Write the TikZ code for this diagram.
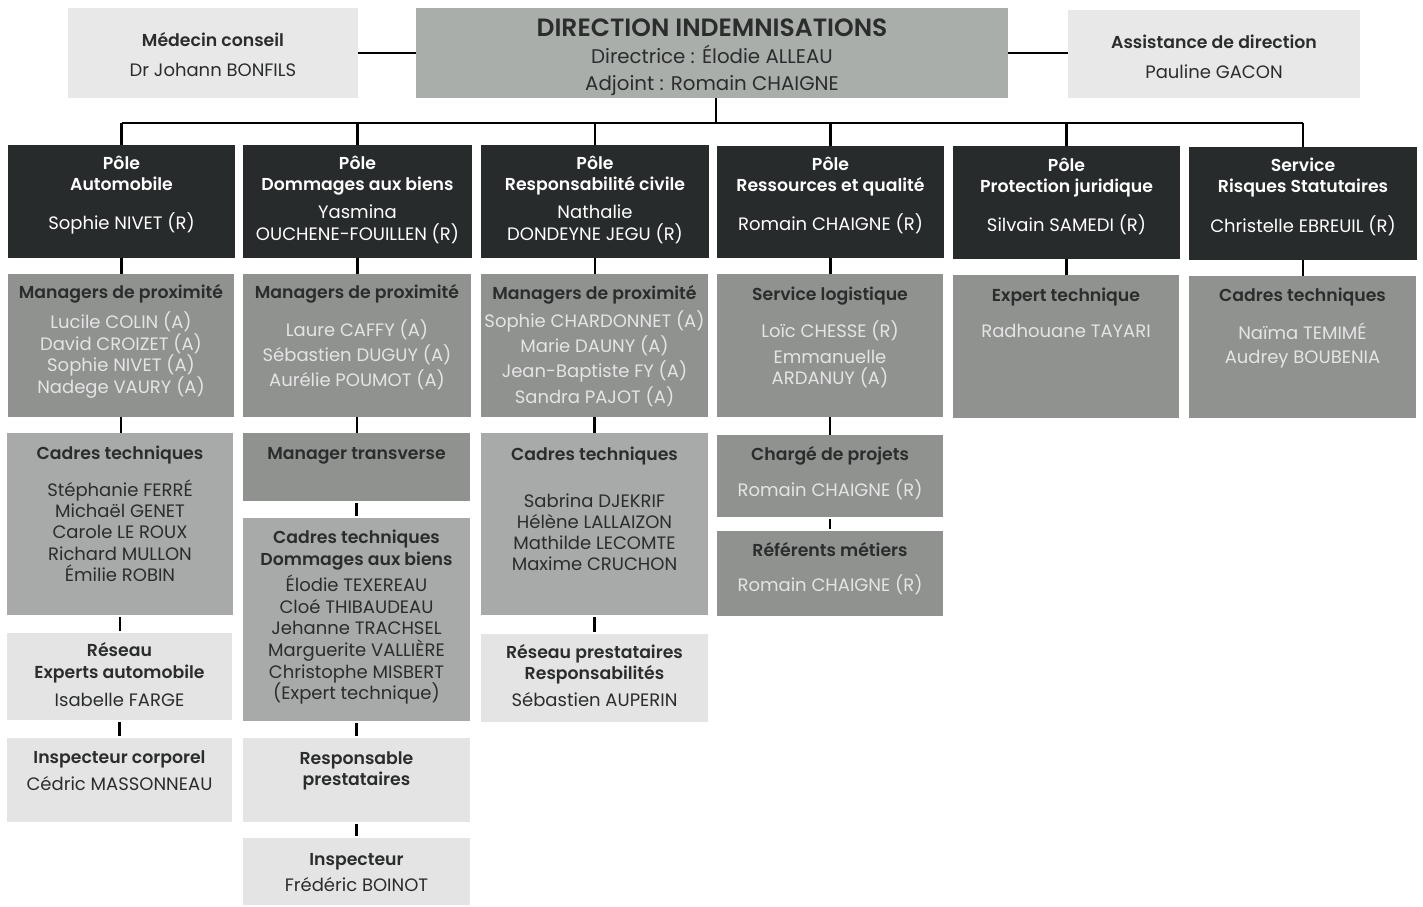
\documentclass[tikz,border=0pt]{standalone}
\usepackage{fontspec}
\setmainfont{Poppins}[BoldFont={Poppins SemiBold}]
\definecolor{darkfill}{HTML}{272B2B}
\definecolor{midfill}{HTML}{8F928F}
\definecolor{techfill}{HTML}{A8AAA9}
\definecolor{lightfill}{HTML}{E4E4E4}
\definecolor{sidefill}{HTML}{E8E8E8}
\definecolor{dirfill}{HTML}{A9AEAB}
\definecolor{ink}{HTML}{2B2D2D}
\definecolor{paleink}{HTML}{E4E4E4}

% box from its corners (x1,y1)-(x2,y2), in pixel units
\newcommand\orgbox[6]{%
  \node[#2, minimum width={(#5-#3)*0.5pt}, minimum height={(#6-#4)*0.5pt}]
    (#1) at ({(#3+#5)/2},{(#4+#6)/2}) {};}
% text block centred on a box, first baseline at y = #4, line skip #5 pt
\newcommand\orgtxt[6]{%
  \node[#2=#5] (#1) at (#3.center |- 0,{#4-20}) {\vrule height 10pt depth 0pt width 0pt\relax#6};}
% fixed line pitch whatever the glyph heights
\newcommand\pitch[2]{\fontsize{#1}{#2}\selectfont\lineskiplimit=-100pt\lineskip=0pt}

\begin{document}
\begin{tikzpicture}[x=0.5pt,y=-0.5pt,
  box/.style={draw=none, inner sep=0pt, outer sep=0pt},
  dark/.style={box, fill=darkfill},
  mid/.style={box, fill=midfill},
  tech/.style={box, fill=techfill},
  light/.style={box, fill=lightfill},
  side/.style={box, fill=sidefill},
  head/.style={box, fill=dirfill},
  txt/.style={align=center, inner sep=0pt, outer sep=0pt, anchor=north},
  ttl/.style={txt, font=\bfseries\pitch{12.5}{#1}, text=ink},
  sub/.style={txt, font=\pitch{9.9}{#1}, text=ink},
  hd/.style={txt, font=\bfseries\pitch{8.65}{#1}, text=ink},
  nm/.style={txt, font=\pitch{9}{#1}, text=ink},
  hdw/.style={txt, font=\bfseries\pitch{8.65}{#1}, text=white},
  nmw/.style={txt, font=\pitch{9}{#1}, text=white},
  nml/.style={txt, font=\pitch{9}{#1}, text=paleink},
  link/.style={draw=black, line width=1.2pt},
  tick/.style={link, shorten <=1pt, shorten >=1pt}]

\fill[white] (0,0) rectangle (1423,906);
\useasboundingbox (0,0) rectangle (1423,906);

% --- direction level
\orgbox{med}{side}{68}{8}{358}{98}
\orgbox{dir}{head}{416}{8}{1008}{98}
\orgbox{ast}{side}{1068}{10}{1360}{98}
\orgtxt{medh}{hd}{med}{46.5}{11}{Médecin conseil}
\orgtxt{medn}{nm}{med}{76}{11}{Dr Johann BONFILS}
\orgtxt{dirh}{ttl}{dir}{36.5}{12}{DIRECTION INDEMNISATIONS}
\orgtxt{dirn}{sub}{dir}{63.3}{13.7}{Directrice : Élodie ALLEAU\\Adjoint : Romain CHAIGNE}
\orgtxt{asth}{hd}{ast}{48.3}{11}{Assistance de direction}
\orgtxt{astn}{nm}{ast}{78.3}{11}{Pauline GACON}

% --- poles
\orgbox{p1}{dark}{8}{145}{235}{258}
\orgbox{p2}{dark}{243}{145}{472}{258}
\orgbox{p3}{dark}{481}{145}{709}{258}
\orgbox{p4}{dark}{717}{146}{944}{258}
\orgbox{p5}{dark}{953}{146}{1180}{259}
\orgbox{p6}{dark}{1189}{147}{1417}{260}
\orgtxt{p1h}{hdw}{p1}{169.5}{10.5}{Pôle\\Automobile}
\orgtxt{p1n}{nmw}{p1}{229.5}{11}{Sophie NIVET (R)}
\orgtxt{p2h}{hdw}{p2}{169.5}{10.5}{Pôle\\Dommages aux biens}
\orgtxt{p2n}{nmw}{p2}{218}{11}{Yasmina\\OUCHENE-FOUILLEN (R)}
\orgtxt{p3h}{hdw}{p3}{169.5}{10.5}{Pôle\\Responsabilité civile}
\orgtxt{p3n}{nmw}{p3}{218}{11}{Nathalie\\DONDEYNE JEGU (R)}
\orgtxt{p4h}{hdw}{p4}{170.5}{10.5}{Pôle\\Ressources et qualité}
\orgtxt{p4n}{nmw}{p4}{230.5}{11}{Romain CHAIGNE (R)}
\orgtxt{p5h}{hdw}{p5}{171}{10.5}{Pôle\\Protection juridique}
\orgtxt{p5n}{nmw}{p5}{231}{11}{Silvain SAMEDI (R)}
\orgtxt{p6h}{hdw}{p6}{171.5}{10.5}{Service\\Risques Statutaires}
\orgtxt{p6n}{nmw}{p6}{232}{11}{Christelle EBREUIL (R)}

% --- first level teams
\orgbox{m1}{mid}{8}{274}{234}{417}
\orgbox{m2}{mid}{243}{274}{471}{417}
\orgbox{m3}{mid}{481}{274}{708}{417}
\orgbox{m4}{mid}{717}{274}{943}{417}
\orgbox{m5}{mid}{953}{275}{1179}{418}
\orgbox{m6}{mid}{1189}{276}{1416}{418}
\orgtxt{m1h}{hd}{m1}{298.5}{11}{Managers de proximité}
\orgtxt{m1n}{nml}{m1}{328.7}{10.75}{Lucile COLIN (A)\\David CROIZET (A)\\Sophie NIVET (A)\\Nadege VAURY (A)}
\orgtxt{m2h}{hd}{m2}{298.5}{11}{Managers de proximité}
\orgtxt{m2n}{nml}{m2}{336.7}{12.5}{Laure CAFFY (A)\\Sébastien DUGUY (A)\\Aurélie POUMOT (A)}
\orgtxt{m3h}{hd}{m3}{299.5}{11}{Managers de proximité}
\orgtxt{m3n}{nml}{m3}{327.3}{12.65}{Sophie CHARDONNET (A)\\Marie DAUNY (A)\\Jean-Baptiste FY (A)\\Sandra PAJOT (A)}
\orgtxt{m4h}{hd}{m4}{300.7}{11}{Service logistique}
\orgtxt{m4n}{nml}{m4}{337.3}{10.5}{Loïc CHESSE (R)\\[2.5pt]Emmanuelle\\ARDANUY (A)}
\orgtxt{m5h}{hd}{m5}{301.7}{11}{Expert technique}
\orgtxt{m5n}{nml}{m5}{337.3}{11}{Radhouane TAYARI}
\orgtxt{m6h}{hd}{m6}{301.7}{11}{Cadres techniques}
\orgtxt{m6n}{nml}{m6}{339.3}{12}{Naïma TEMIMÉ\\Audrey BOUBENIA}

% --- second level
\orgbox{t1}{tech}{7}{433}{233}{615}
\orgbox{mt2}{mid}{243}{433}{470}{501}
\orgbox{t2}{tech}{243}{518}{470}{721}
\orgbox{t3}{tech}{481}{433}{708}{615}
\orgbox{cp4}{mid}{717}{435}{943}{517}
\orgbox{rm4}{mid}{717}{531}{943}{616}
\orgtxt{t1h}{hd}{t1}{459.3}{11}{Cadres techniques}
\orgtxt{t1n}{nm}{t1}{496}{10.7}{Stéphanie FERRÉ\\Michaël GENET\\Carole LE ROUX\\Richard MULLON\\Émilie ROBIN}
\orgtxt{mt2h}{hd}{mt2}{459.3}{11}{Manager transverse}
\orgtxt{t2h}{hd}{t2}{543.3}{10.85}{Cadres techniques\\Dommages aux biens}
\orgtxt{t2n}{nm}{t2}{591.7}{10.8}{Élodie TEXEREAU\\Cloé THIBAUDEAU\\Jehanne TRACHSEL\\Marguerite VALLIÈRE\\Christophe MISBERT\\(Expert technique)}
\orgtxt{t3h}{hd}{t3}{460}{11}{Cadres techniques}
\orgtxt{t3n}{nm}{t3}{507.3}{10.6}{Sabrina DJEKRIF\\Hélène LALLAIZON\\Mathilde LECOMTE\\Maxime CRUCHON}
\orgtxt{cp4h}{hd}{cp4}{460.7}{11}{Chargé de projets}
\orgtxt{cp4n}{nml}{cp4}{496}{11}{Romain CHAIGNE (R)}
\orgtxt{rm4h}{hd}{rm4}{556.7}{11}{Référents métiers}
\orgtxt{rm4n}{nml}{rm4}{591.7}{11}{Romain CHAIGNE (R)}

% --- networks and inspectors
\orgbox{re1}{light}{7}{633}{232}{720}
\orgbox{ic1}{light}{7}{738}{232}{822}
\orgbox{rp2}{light}{243}{738}{470}{822}
\orgbox{in2}{light}{243}{838}{470}{905}
\orgbox{rr3}{light}{481}{634}{708}{722}
\orgtxt{re1h}{hd}{re1}{656.7}{10.8}{Réseau\\Experts automobile}
\orgtxt{re1n}{nm}{re1}{706}{11}{Isabelle FARGE}
\orgtxt{ic1h}{hd}{ic1}{763.3}{11}{Inspecteur corporel}
\orgtxt{ic1n}{nm}{ic1}{790}{11}{Cédric MASSONNEAU}
\orgtxt{rp2h}{hd}{rp2}{764}{10.85}{Responsable\\prestataires}
\orgtxt{in2h}{hd}{in2}{865}{11}{Inspecteur}
\orgtxt{in2n}{nm}{in2}{891.7}{11}{Frédéric BOINOT}
\orgtxt{rr3h}{hd}{rr3}{658.3}{10.6}{Réseau prestataires\\Responsabilités}
\orgtxt{rr3n}{nm}{rr3}{706.7}{11}{Sébastien AUPERIN}

% --- connectors
\coordinate (bus) at (716,123);
\draw[link] (med.east) -- (dir.west);
\draw[link] (dir.east) -- (dir.east -| ast.west);
\draw[link] (dir.south -| bus) -- (bus);
\draw[link] (p1.north |- bus) -- (p6.north |- bus);
\foreach \p in {p1,p2,p3,p4,p5,p6}
  \draw[link] (\p.north |- bus) -- (\p.north);
\foreach \a/\b in {p1/m1,p2/m2,p3/m3,p4/m4,p5/m5,p6/m6,m1/t1,m2/mt2,m3/t3,m4/cp4}
  \draw[link] (\a.south) -- (\a.south |- \b.north);
\foreach \a/\b in {t1/re1,re1/ic1,mt2/t2,t2/rp2,rp2/in2,t3/rr3,cp4/rm4}
  \draw[tick] (\a.south) -- (\a.south |- \b.north);
\end{tikzpicture}
\end{document}
